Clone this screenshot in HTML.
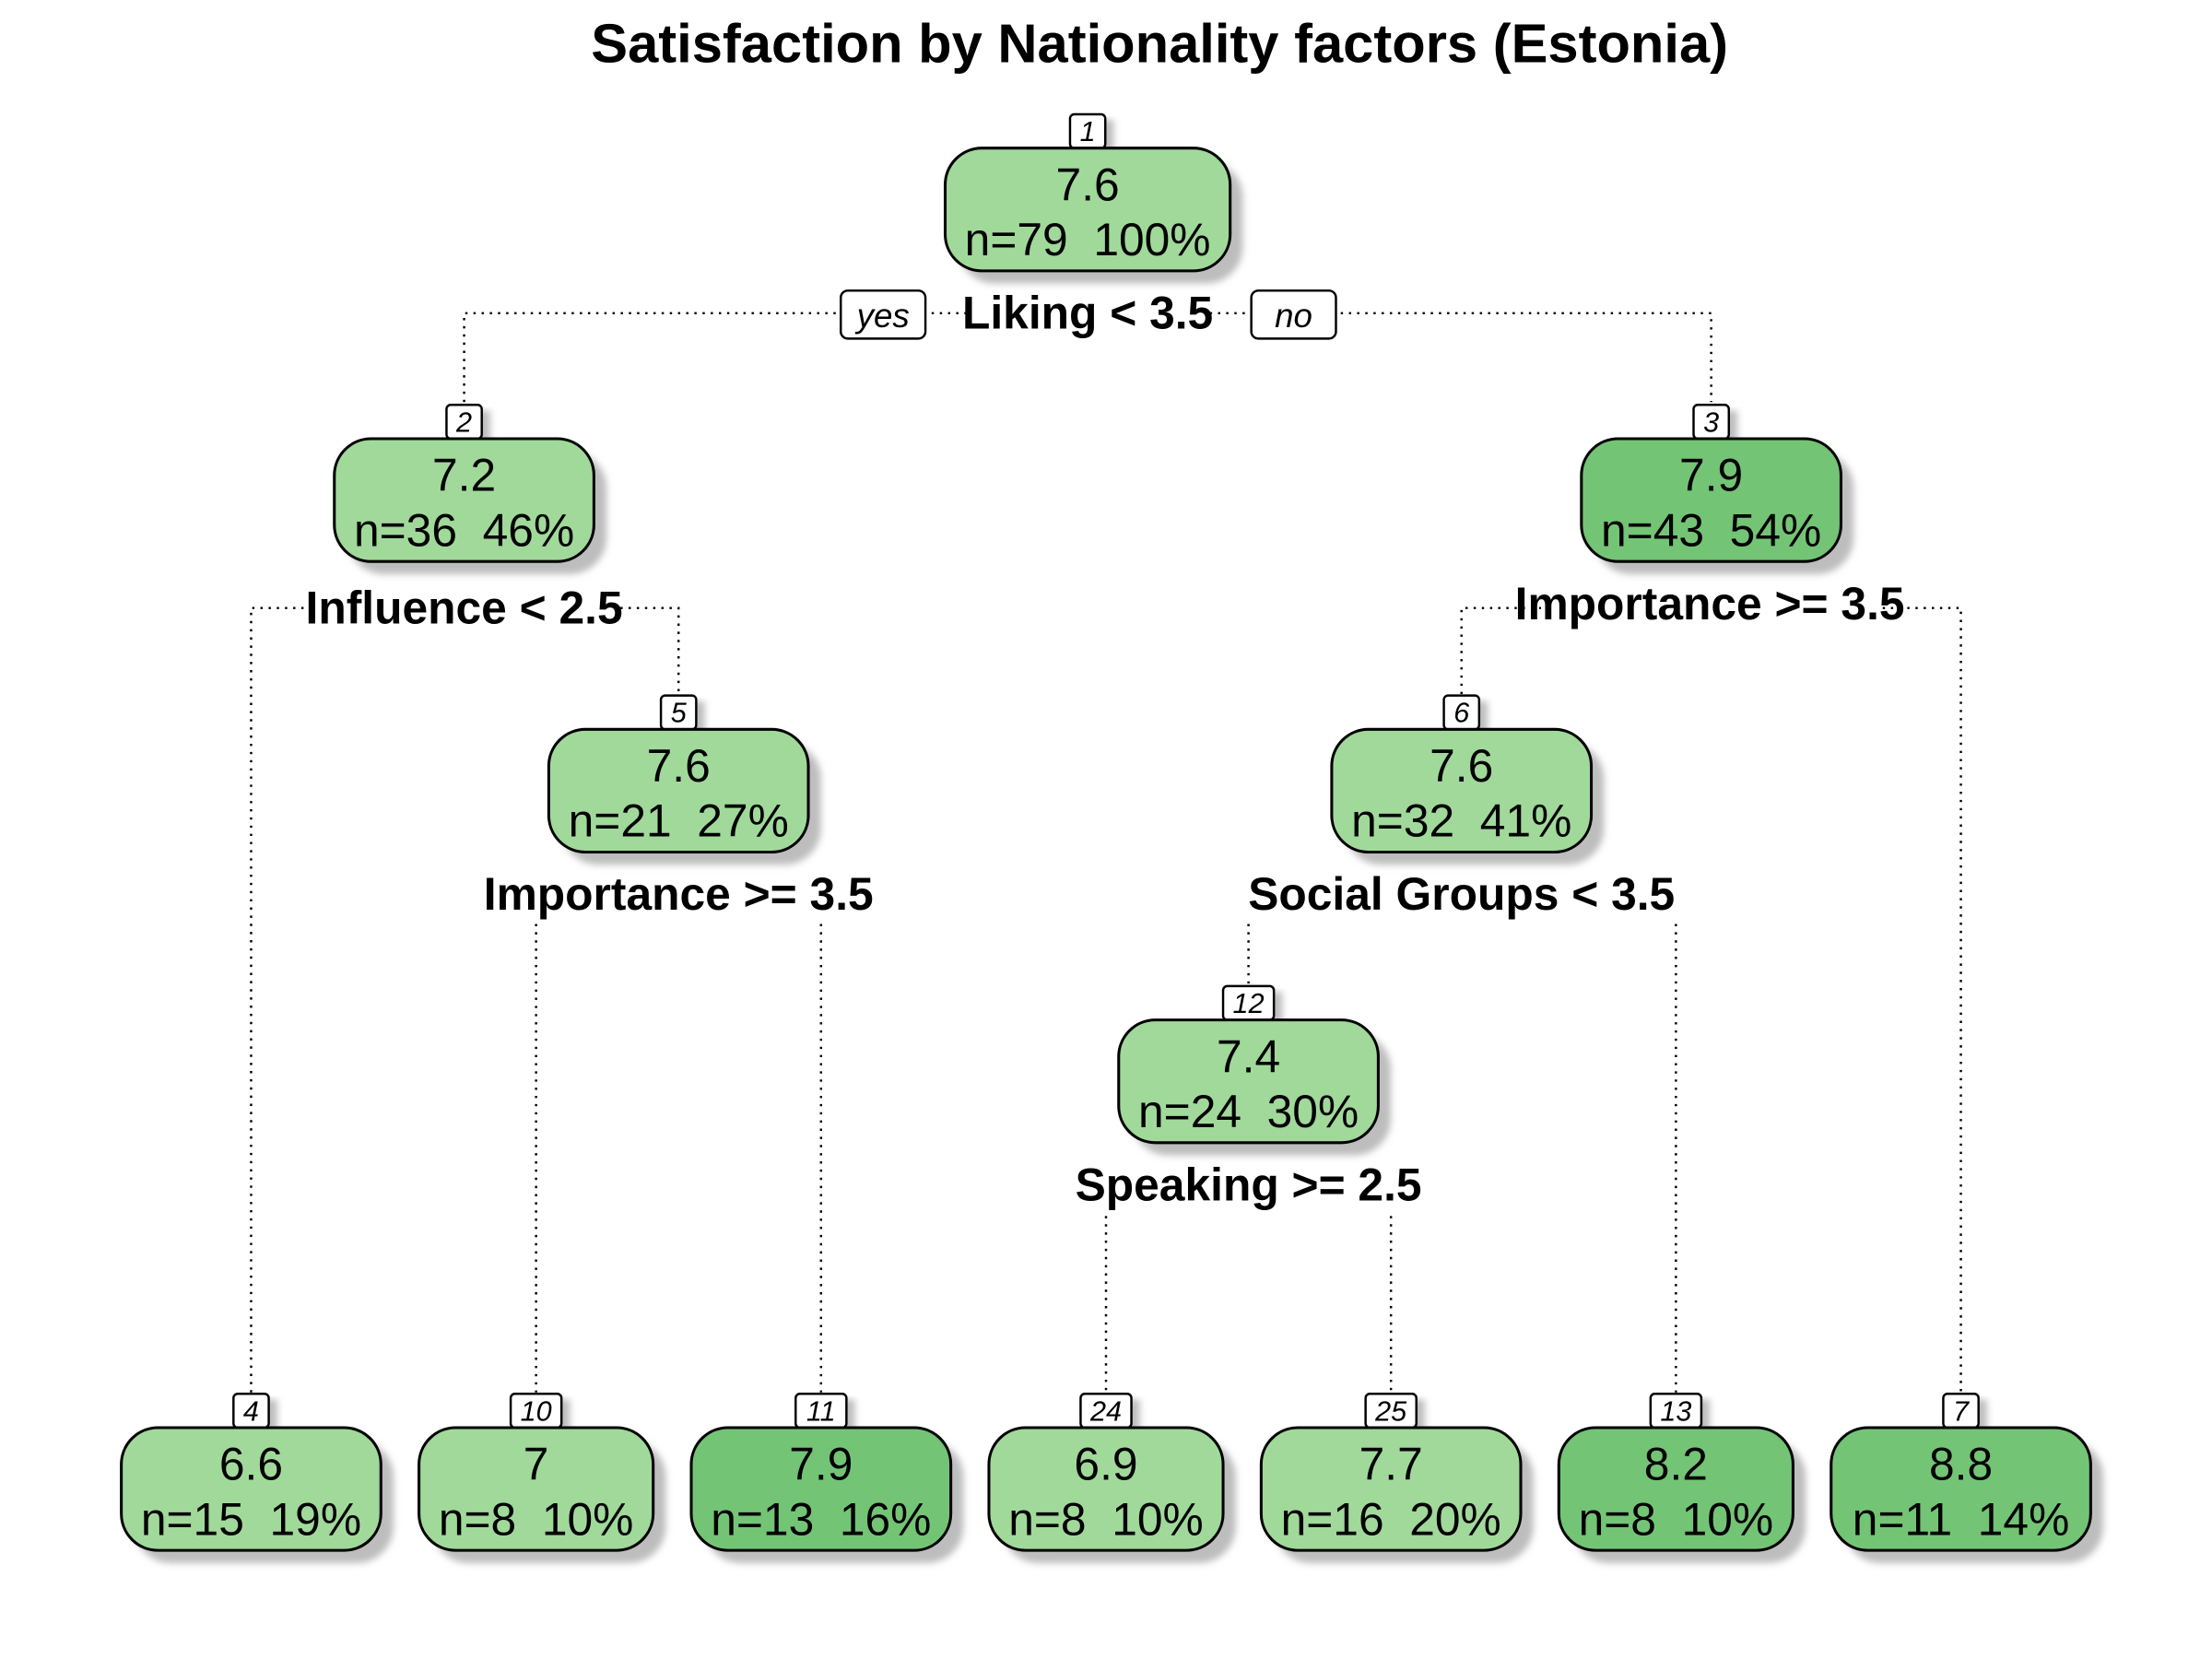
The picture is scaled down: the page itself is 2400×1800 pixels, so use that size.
<!DOCTYPE html>
<html><head><meta charset="utf-8">
<style>
html,body{margin:0;padding:0;background:#fff;}
svg{display:block;}
text{font-family:"Liberation Sans",Arial,sans-serif;}
</style></head>
<body>
<svg id="chart" width="2400" height="1800" viewBox="0 0 1568 1176" xmlns="http://www.w3.org/2000/svg">
<defs>
<filter id="blur" x="-10%" y="-10%" width="130%" height="140%"><feGaussianBlur stdDeviation="2.5"/></filter>
</defs>
<text x="822" y="44" text-anchor="middle" font-size="39" font-weight="bold">Satisfaction by Nationality factors (Estonia)</text>
<g id="edges"></g>
<g id="labels"></g>
<g id="nodes"></g>
</svg>
<script>
const nodeIds    = ["1","2","3","5","6","12","4","10","11","24","25","13","7"];
const nodeValues = ["7.6","7.2","7.9","7.6","7.6","7.4","6.6","7","7.9","6.9","7.7","8.2","8.8"];
const nodeCounts = [79,36,43,21,32,24,15,8,13,8,16,8,11];
const nodePcts   = ["100%","46%","54%","27%","41%","30%","19%","10%","16%","10%","20%","10%","14%"];
const nodeDark   = [false,false,true,false,false,false,false,false,true,false,false,true,true];
const splitText  = ["Liking < 3.5","Influence < 2.5","Importance >= 3.5","Importance >= 3.5","Social Groups < 3.5","Speaking >= 2.5"];

const NS="http://www.w3.org/2000/svg";
function mk(tag,attrs,parent){const e=document.createElementNS(NS,tag);for(const k in attrs)e.setAttribute(k,attrs[k]);parent.appendChild(e);return e;}
const nodeCx=[771,329,1213,481,1036,885,178,380,582,784,986,1188,1390];
const nodeTop=[105,311,311,517,517,723,1012,1012,1012,1012,1012,1012,1012];
const nodeW=[202,184,184,184,184,184,184,166,184,166,184,166,184];
const H=87;
const gN=document.getElementById('nodes'),gE=document.getElementById('edges'),gL=document.getElementById('labels');
const dot={stroke:"#000","stroke-width":1.6,"stroke-dasharray":"1.6 4.2",fill:"none"};
function dline(pts,name){const p=mk('polyline',Object.assign({points:pts},dot),gE);

}
dline("329,285 329,222 1213,222 1213,285","edge-liking");
dline("178,987 178,431 481,431 481,492","edge-influence");
dline("1036,492 1036,431 1390,431 1390,987","edge-importance-right");
dline("380,655 380,987","edge-importance-left-yes");
dline("582,655 582,987","edge-importance-left-no");
dline("885,655 885,698","edge-social-yes");
dline("1188,655 1188,987","edge-social-no");
dline("784,862 784,987","edge-speaking-yes");
dline("986,862 986,987","edge-speaking-no");

const sx=[771,329,1212,481,1036,885], sy=[222,431,428,634,634,840];
splitText.forEach((t,i)=>{
  const tw=t.length*13.6;
  const bg=mk('rect',{x:sx[i]-tw/2-4,y:sy[i]-20,width:tw+8,height:36,fill:"#fff"},gL);
  
  
  const e=mk('text',{x:sx[i],y:sy[i]+11,"text-anchor":"middle","font-size":32.5,"font-weight":"bold"},gL);
  e.textContent=t;
  
  
});
[["yes",626],["no",917]].forEach(([t,x])=>{
  const r=mk('rect',{x:x-30,y:206,width:60,height:34,rx:5,fill:"#fff",stroke:"#000","stroke-width":1.6},gL);
  
  
  const e=mk('text',{x:x,y:232,"text-anchor":"middle","font-size":24,"font-style":"italic"},gL);
  e.textContent=t;
  
  
});

nodeIds.forEach((id,i)=>{
  const g=mk('g',{},gN);
  
  
  const x=nodeCx[i]-nodeW[i]/2, y=nodeTop[i];
  const lw=id.length*11+14;
  mk('rect',{x:nodeCx[i]-lw/2+6,y:y-24+4,width:lw,height:24,fill:"#bdbdbd",filter:"url(#blur)"},g);
  mk('rect',{x:x+9,y:y+9,width:nodeW[i],height:H,rx:26,fill:"#bdbdbd",filter:"url(#blur)"},g);
  const lb=mk('rect',{x:nodeCx[i]-lw/2,y:y-24,width:lw,height:24,rx:3,fill:"#fff",stroke:"#000","stroke-width":1.6},g);
  
  
  const lt=mk('text',{x:nodeCx[i],y:y-5,"text-anchor":"middle","font-size":20,"font-style":"italic"},g);
  lt.textContent=id;
  
  
  const b=mk('rect',{x:x,y:y,width:nodeW[i],height:H,rx:26,fill:nodeDark[i]?"#74c476":"#a1d99b",stroke:"#000","stroke-width":2},g);
  
  
  const t1=mk('text',{x:nodeCx[i],y:y+37,"text-anchor":"middle","font-size":32.5},g);
  t1.textContent=nodeValues[i];
  
  
  const t2=mk('text',{x:nodeCx[i],y:y+76,"text-anchor":"middle","font-size":32.5},g);
  t2.textContent="n="+nodeCounts[i]+"\u00a0\u00a0"+nodePcts[i];
  
  
});
</script>
</body></html>
